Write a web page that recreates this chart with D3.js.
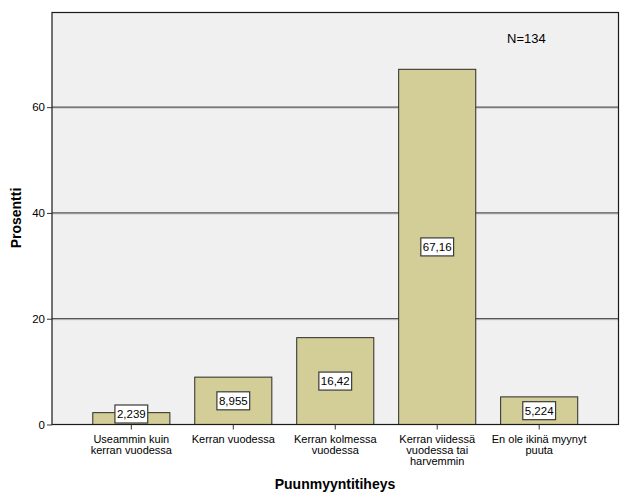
<!DOCTYPE html>
<html><head><meta charset="utf-8">
<script src="https://cdn.jsdelivr.net/npm/d3@7"></script>
<style>body{margin:0;background:#fff}svg{display:block}text{font-family:Arial,"Liberation Sans",sans-serif}</style>
</head><body>
<svg id="c" width="626" height="501"></svg>
<script>
const categories = [
  ["Useammin kuin", "kerran vuodessa"],
  ["Kerran vuodessa"],
  ["Kerran kolmessa", "vuodessa"],
  ["Kerran viidessä", "vuodessa tai", "harvemmin"],
  ["En ole ikinä myynyt", "puuta"]
];
const values = [2.239, 8.955, 16.42, 67.16, 5.224];
const valueLabels = ["2,239", "8,955", "16,42", "67,16", "5,224"];
const yTicks = [0, 20, 40, 60];
const nLabel = "N=134";
const xTitle = "Puunmyyntitiheys";
const yTitle = "Prosentti";

const svg = d3.select("#c");
const L = 52, R = 618.5, T = 12.5, B = 424.5;
const keys = categories.map((c, i) => i);
const x = d3.scaleBand().domain(keys).range([L, R]).paddingInner(0.244).paddingOuter(0.40);
const y = d3.scaleLinear().domain([0, 77.9]).range([B, T]);

svg.append("rect").attr("x", L).attr("y", T).attr("width", R - L).attr("height", B - T).attr("fill", "#f0f0f0");

// gridlines
const g = svg.append("g");
yTicks.filter(t => t > 0).forEach(t => {
  g.append("line").attr("x1", L).attr("x2", R).attr("y1", y(t) + 1).attr("y2", y(t) + 1).attr("stroke", "#c8c8c8").attr("stroke-width", 1);
  g.append("line").attr("x1", L).attr("x2", R).attr("y1", y(t)).attr("y2", y(t)).attr("stroke", "#555").attr("stroke-width", 1.2);
});

// bars
svg.append("g").selectAll("rect").data(values).join("rect")
  .attr("x", (d, i) => x(i)).attr("width", x.bandwidth())
  .attr("y", d => y(d)).attr("height", d => B - y(d))
  .attr("fill", "#d3ce97").attr("stroke", "#2a2a2a").attr("stroke-width", 1);

// frame
svg.append("rect").attr("x", L).attr("y", T).attr("width", R - L).attr("height", B - T).attr("fill", "none").attr("stroke", "#1a1a1a").attr("stroke-width", 1.2);

// value labels
const lab = svg.append("g");
values.forEach((v, i) => {
  let cy = (y(v) + B) / 2;
  const h = 18;
  if (cy + h / 2 > B - 1.5) cy = B - 1.5 - h / 2;
  const cx = x(i) + x.bandwidth() / 2;
  const t = lab.append("text").attr("x", cx).attr("y", cy).attr("text-anchor", "middle").attr("dominant-baseline", "central")
    .attr("font-size", 11.5).attr("fill", "#000").text(valueLabels[i]);
  const w = t.node().getComputedTextLength() + 4;
  lab.insert("rect", "text").attr("x", cx - w / 2).attr("y", cy - h / 2).attr("width", w).attr("height", h)
    .attr("fill", "#fff").attr("stroke", "#3a3a3a").attr("stroke-width", 1.2);
});
lab.selectAll("text").raise();

// y axis
const ya = svg.append("g").attr("transform", `translate(${L},0)`)
  .call(d3.axisLeft(y).tickValues(yTicks).tickSize(5).tickPadding(2).tickFormat(d3.format("d")));
ya.select(".domain").remove();
ya.selectAll("line").attr("stroke", "#333");
ya.selectAll("text").attr("font-size", 11.5).attr("fill", "#000").attr("font-family", "Arial, 'Liberation Sans', sans-serif");

// x axis
const xa = svg.append("g").attr("transform", `translate(0,${B})`)
  .call(d3.axisBottom(x).tickSize(5).tickFormat(""));
xa.select(".domain").remove();
xa.selectAll("line").attr("stroke", "#333");
keys.forEach(i => {
  const t = svg.append("text").attr("x", x(i) + x.bandwidth() / 2).attr("y", 443).attr("text-anchor", "middle")
    .attr("font-size", 11).attr("fill", "#000");
  categories[i].forEach((line, j) => t.append("tspan").attr("x", x(i) + x.bandwidth() / 2).attr("dy", j ? 11 : 0).text(line));
});

svg.append("text").attr("x", 335).attr("y", 489).attr("text-anchor", "middle").attr("font-size", 14).attr("font-weight", "bold").text(xTitle);
svg.append("text").attr("transform", "translate(21,218) rotate(-90)").attr("text-anchor", "middle").attr("font-size", 14).attr("font-weight", "bold").text(yTitle);
svg.append("text").attr("x", 507).attr("y", 43).attr("font-size", 13).attr("fill", "#000").text(nLabel);
</script>
</body></html>
